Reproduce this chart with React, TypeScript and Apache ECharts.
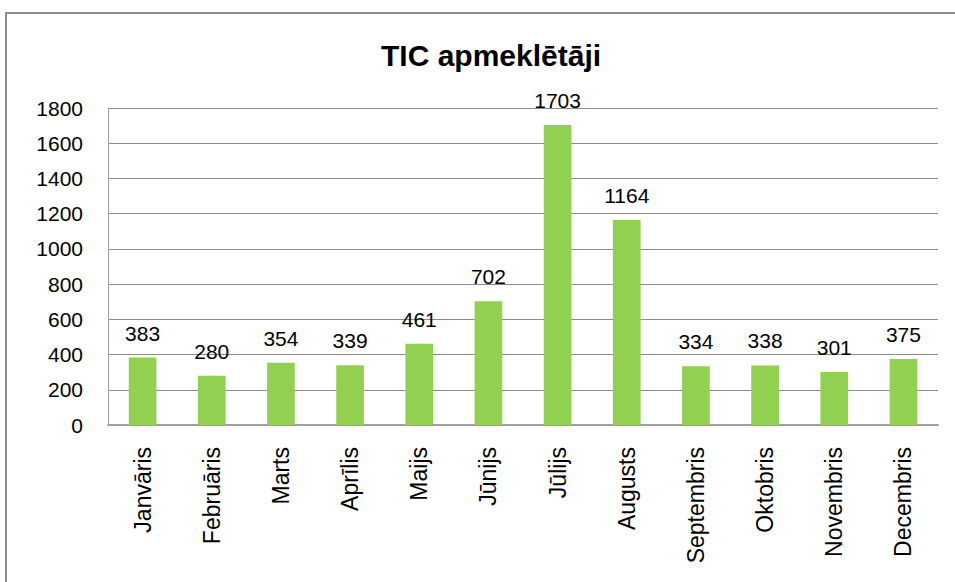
import React, { useEffect, useRef } from "react";
import * as echarts from "echarts";

const title = "TIC apmeklētāji";
const months = [
  "Janvāris",
  "Februāris",
  "Marts",
  "Aprīlis",
  "Maijs",
  "Jūnijs",
  "Jūlijs",
  "Augusts",
  "Septembris",
  "Oktobris",
  "Novembris",
  "Decembris",
];
const visitors = [383, 280, 354, 339, 461, 702, 1703, 1164, 334, 338, 301, 375];
const yMin = 0;
const yMax = 1800;
const yStep = 200;

export default function App() {
  const ref = useRef<HTMLDivElement>(null);
  useEffect(() => {
    if (!ref.current) return;
    const chart = echarts.init(ref.current, null, { renderer: "svg" });
    const font = "'Liberation Sans', Arial, sans-serif";
    chart.setOption({
      animation: false,
      backgroundColor: "#ffffff",
      title: {
        text: title,
        left: 486,
        textAlign: "center",
        top: 35,
        textStyle: {
          fontFamily: font,
          fontSize: 30,
          fontWeight: "bold",
          color: "#000",
        },
      },
      graphic: [
        {
          type: "rect",
          shape: { x: 6, y: 13, width: 1000, height: 700 },
          style: { fill: "none", stroke: "#8c8c8c", lineWidth: 2 },
          silent: true,
        },
      ],
      grid: { left: 108, right: 17, top: 108, bottom: 157, containLabel: false },
      xAxis: {
        type: "category",
        data: months,
        axisLine: { show: true, lineStyle: { color: "#a0a0a0", width: 2 } },
        axisTick: { show: false },
        axisLabel: {
          rotate: 90,
          margin: 22,
          interval: 0,
          fontFamily: font,
          fontSize: 23,
          color: "#000",
        },
      },
      yAxis: {
        type: "value",
        min: yMin,
        max: yMax,
        interval: yStep,
        axisLine: { show: true, lineStyle: { color: "#a0a0a0", width: 1 } },
        axisTick: { show: false },
        splitLine: { show: true, lineStyle: { color: "#8c8c8c", width: 1 } },
        axisLabel: {
          margin: 25,
          fontFamily: font,
          fontSize: 21,
          color: "#000",
          formatter: (v: number) => String(v),
        },
      },
      series: [
        {
          type: "bar",
          data: visitors,
          barWidth: "40%",
          itemStyle: { color: "#92d050" },
          label: {
            show: true,
            position: "top",
            distance: 14,
            fontFamily: font,
            fontSize: 21,
            color: "#000",
          },
        },
      ],
    });
    return () => chart.dispose();
  }, []);
  return (
    <div
      ref={ref}
      style={{ position: "fixed", left: 0, top: 0, width: 955, height: 582 }}
    />
  );
}
